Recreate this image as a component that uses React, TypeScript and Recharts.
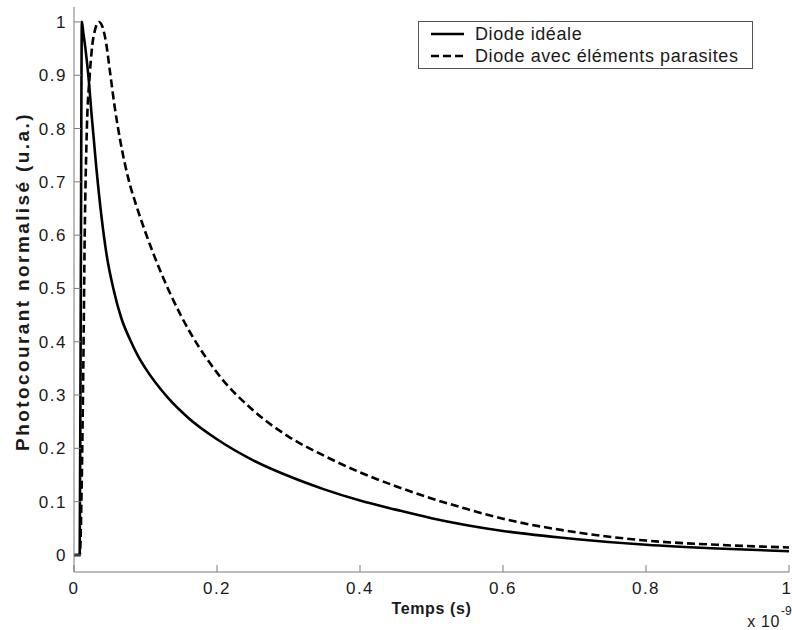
import { LineChart, Line, XAxis, YAxis, Legend } from 'recharts'

// ─── data (temps en unités de 1e-9 s) ─────────────────────────────────

const idealTime = [
  0, 0.004, 0.008, 0.0095, 0.011, 0.013, 0.016, 0.02, 0.025, 0.031, 0.038,
  0.046, 0.055, 0.066, 0.078, 0.09, 0.1, 0.13, 0.16, 0.2, 0.25, 0.3, 0.35,
  0.4, 0.45, 0.5, 0.6, 0.7, 0.8, 0.9, 1.0,
]
const idealCurrent = [
  0, 0, 0, 0.5, 1.0, 0.98, 0.95, 0.9, 0.82, 0.73, 0.64,
  0.56, 0.5, 0.445, 0.405, 0.372, 0.35, 0.297, 0.257, 0.217, 0.178, 0.148, 0.123,
  0.102, 0.085, 0.069, 0.045, 0.03, 0.019, 0.012, 0.007,
]

const parasiticTime = [
  0, 0.008, 0.011, 0.013, 0.015, 0.018, 0.022, 0.027, 0.035, 0.04, 0.045,
  0.05, 0.057, 0.065, 0.076, 0.088, 0.1, 0.12, 0.15, 0.2, 0.25, 0.3, 0.35,
  0.4, 0.45, 0.5, 0.55, 0.6, 0.7, 0.8, 0.9, 1.0,
]
const parasiticCurrent = [
  0, 0, 0.15, 0.35, 0.6, 0.8, 0.9, 0.97, 1.0, 0.99, 0.96,
  0.91, 0.84, 0.775, 0.706, 0.652, 0.605, 0.535, 0.448, 0.342, 0.272, 0.222, 0.186,
  0.155, 0.129, 0.106, 0.086, 0.068, 0.043, 0.027, 0.019, 0.014,
]

const xTicks = [0, 0.2, 0.4, 0.6, 0.8, 1]
const yTicks = [0, 0.1, 0.2, 0.3, 0.4, 0.5, 0.6, 0.7, 0.8, 0.9, 1]

const seriesNames = ['Diode idéale', 'Diode avec éléments parasites']
const xLabel = 'Temps (s)'
const yLabel = 'Photocourant normalisé (u.a.)'

// ─── helpers ──────────────────────────────────────────────────────────

const FONT = '"Liberation Sans", Arial, Helvetica, sans-serif'
const AXIS = '#7a7a7a'
const INK = '#1a1a1a'

const toPoints = (ts: number[], vs: number[]) => ts.map((t, i) => ({ t, v: vs[i] }))

const idealData = toPoints(idealTime, idealCurrent)
const parasiticData = toPoints(parasiticTime, parasiticCurrent)

const tickStyle = { fontFamily: FONT, fontSize: 17, fill: INK, style: { letterSpacing: '1.5px' } }

type Box = { x: number; y: number; width: number; height: number }

function XLabel({ viewBox }: { viewBox?: Box }) {
  if (!viewBox) return null
  const cx = viewBox.x + viewBox.width / 2
  const right = viewBox.x + viewBox.width
  return (
    <g fontFamily={FONT} fill={INK}>
      <text x={cx} y={viewBox.y + 42} textAnchor="middle" fontSize={16} fontWeight="bold" style={{ letterSpacing: '0.6px' }}>
        {xLabel}
      </text>
      <text x={right - 9} y={viewBox.y + 55} textAnchor="end" fontSize={16} style={{ letterSpacing: '0.6px' }}>
        x 10
      </text>
      <text x={right - 8} y={viewBox.y + 43} textAnchor="start" fontSize={12}>
        -9
      </text>
    </g>
  )
}

function YLabel({ viewBox }: { viewBox?: Box }) {
  if (!viewBox) return null
  const cy = viewBox.y + viewBox.height / 2 - 8
  const x = 29
  return (
    <text
      x={x}
      y={cy}
      transform={`rotate(-90, ${x}, ${cy})`}
      textAnchor="middle"
      fontFamily={FONT}
      fontSize={19}
      fontWeight="bold"
      fill={INK}
      style={{ letterSpacing: '2.4px' }}
    >
      {yLabel}
    </text>
  )
}

type LegendItem = { value: string; color: string; payload?: { strokeDasharray?: string } }

function LegendBox({ payload }: { payload?: LegendItem[] }) {
  if (!payload?.length) return null
  const items = [...payload].sort((a, b) => seriesNames.indexOf(a.value) - seriesNames.indexOf(b.value))
  return (
    <div
      style={{
        width: 333, height: 45, boxSizing: 'content-box',
        border: '1px solid #555', background: '#fff',
        fontFamily: FONT, fontSize: 18, color: INK, letterSpacing: '0.6px',
        paddingTop: 1,
      }}
    >
      {items.map((p) => (
        <div key={p.value} style={{ display: 'flex', alignItems: 'center', height: 22 }}>
          <svg width={56} height={22} style={{ flex: 'none' }}>
            <line
              x1={12} x2={45} y1={11} y2={11}
              stroke={p.color} strokeWidth={2.6}
              strokeDasharray={p.payload?.strokeDasharray}
            />
          </svg>
          <span style={{ lineHeight: '22px' }}>{p.value}</span>
        </div>
      ))}
    </div>
  )
}

export default function App() {
  return (
    <div style={{ position: 'absolute', left: 0, top: 0, width: 792, height: 630, background: '#fff' }}>
      <LineChart width={792} height={630} margin={{ top: 7, right: 3, left: 0, bottom: 28 }}>
        <XAxis
          dataKey="t" type="number" domain={[0, 1]} ticks={xTicks} allowDataOverflow
          height={30} stroke={AXIS} tickSize={-7} tickMargin={17} tick={tickStyle}
          label={<XLabel />}
        />
        <XAxis
          xAxisId="top" orientation="top" dataKey="t" type="number" domain={[0, 1]} ticks={xTicks}
          allowDataOverflow height={0} stroke={AXIS} tickSize={-7} tick={false}
        />
        <YAxis
          type="number" domain={[-0.032, 1.028]} ticks={yTicks} allowDataOverflow
          width={74} stroke={AXIS} tickSize={-7} tickMargin={14} tick={tickStyle}
          label={<YLabel />}
        />
        <YAxis
          yAxisId="right" orientation="right" type="number" domain={[-0.032, 1.028]} ticks={yTicks}
          allowDataOverflow width={0} stroke={AXIS} tickSize={-7} tick={false}
        />
        <Legend
          layout="vertical" align="center" verticalAlign="middle"
          wrapperStyle={{ left: 418, top: 21, width: 335 }}
          content={<LegendBox />}
        />
        <Line
          data={idealData} dataKey="v" name={seriesNames[0]} type="monotone"
          stroke="#000" strokeWidth={2.6} dot={false} isAnimationActive={false}
        />
        <Line
          data={parasiticData} dataKey="v" name={seriesNames[1]} type="monotone"
          stroke="#000" strokeWidth={2.6} strokeDasharray="8 4" dot={false} isAnimationActive={false}
        />
      </LineChart>
    </div>
  )
}
